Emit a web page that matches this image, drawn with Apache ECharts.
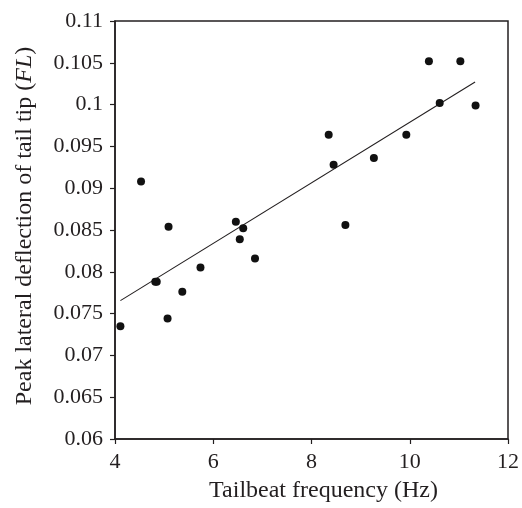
<!DOCTYPE html>
<html>
<head>
<meta charset="utf-8">
<script src="https://cdn.jsdelivr.net/npm/echarts@6/dist/echarts.min.js"></script>
<style>
html,body{margin:0;padding:0;background:#fff;}
#chart{width:522px;height:508px;}
</style>
</head>
<body>
<div id="chart"></div>
<script>
// Tailbeat frequency (Hz)
var freq = [4.11, 4.53, 4.82, 4.85, 5.09, 5.07, 5.37, 5.74, 6.46, 6.54, 6.61, 6.85,
            8.35, 8.45, 8.69, 9.27, 9.93, 10.39, 10.61, 11.03, 11.34];
// Peak lateral deflection of tail tip (FL)
var deflection = [0.0735, 0.0908, 0.0788, 0.0788, 0.0854, 0.0744, 0.0776, 0.0805, 0.0860, 0.0839, 0.0852, 0.0816,
                  0.0964, 0.0928, 0.0856, 0.0936, 0.0964, 0.1052, 0.1002, 0.1052, 0.0999];
// Regression line end points
var fitX = [4.11, 11.33];
var fitY = [0.07655, 0.1027];
var xTicks = [4, 6, 8, 10, 12];
var yTicks = [0.06, 0.065, 0.07, 0.075, 0.08, 0.085, 0.09, 0.095, 0.1, 0.105, 0.11];

var ink = '#231f20';
var font = 'Liberation Serif';
var pts = freq.map(function (f, i) { return [f, deflection[i]]; });
var fit = fitX.map(function (f, i) { return [f, fitY[i]]; });

function draw() {
  var chart = echarts.init(document.getElementById('chart'), null, {renderer: 'canvas'});
  chart.setOption({
    backgroundColor: '#fff',
    animation: false,
    grid: {left: 115, right: 14, top: 21, bottom: 64, show: true, borderColor: ink, borderWidth: 1.5, containLabel: false},
    xAxis: {
      type: 'value', min: xTicks[0], max: xTicks[xTicks.length - 1], interval: 2,
      name: 'Tailbeat frequency (Hz)', nameLocation: 'middle', nameGap: 40,
      nameTextStyle: {fontFamily: font, fontSize: 24, color: ink, padding: [0, 0, 0, 24]},
      axisLine: {show: true, lineStyle: {color: ink, width: 1.5}},
      axisTick: {show: true, inside: false, length: 5, lineStyle: {color: ink, width: 1.2}},
      axisLabel: {fontFamily: font, fontSize: 22, color: ink, margin: 12},
      splitLine: {show: false}
    },
    yAxis: {
      type: 'value', min: yTicks[0], max: yTicks[yTicks.length - 1], interval: 0.005,
      name: 'Peak lateral deflection of tail tip ({i|FL})', nameLocation: 'middle', nameGap: 78,
      nameTextStyle: {fontFamily: font, fontSize: 24, color: ink, padding: [0, 0, 0, 8],
        rich: {i: {fontFamily: font, fontSize: 24, fontStyle: 'italic', color: ink}}},
      axisLine: {show: true, lineStyle: {color: ink, width: 1.5}},
      axisTick: {show: true, inside: false, length: 5, lineStyle: {color: ink, width: 1.2}},
      axisLabel: {fontFamily: font, fontSize: 22, color: ink, margin: 12,
        formatter: function (v) { return String(parseFloat(v.toFixed(3))); }},
      splitLine: {show: false}
    },
    series: [
      {type: 'line', data: fit, symbol: 'none', lineStyle: {color: ink, width: 1.1}, silent: true, z: 2},
      {type: 'scatter', data: pts, symbol: 'circle', symbolSize: 8, itemStyle: {color: '#111', opacity: 1}, z: 3}
    ]
  });
}

var done = false;
function go() { if (!done) { done = true; draw(); } }
if (document.fonts && document.fonts.load) {
  Promise.all([
    document.fonts.load('22px "Liberation Serif"'),
    document.fonts.load('italic 24px "Liberation Serif"')
  ]).then(go, go);
  setTimeout(go, 1500);
} else {
  go();
}
</script>
</body>
</html>
